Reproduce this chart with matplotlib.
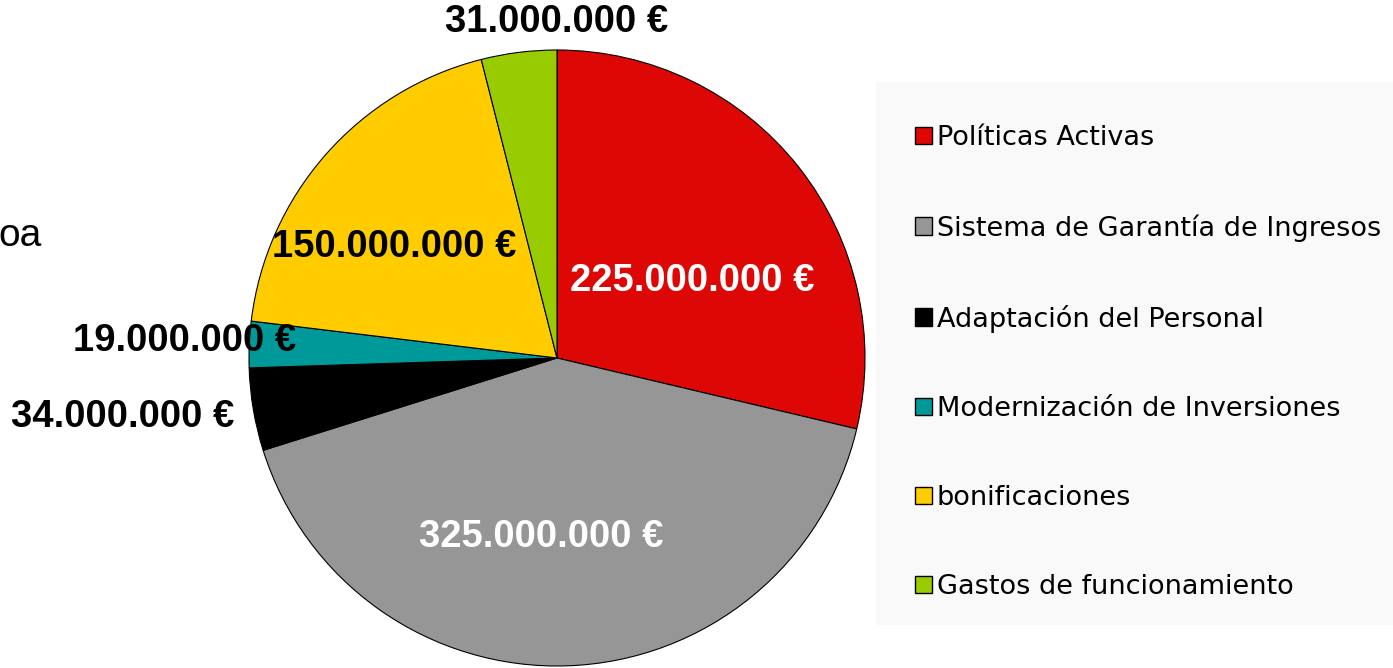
import matplotlib
matplotlib.use("Agg")
import matplotlib.pyplot as plt
import matplotlib.patches as mpatches

# data
categories = ["Políticas Activas", "Sistema de Garantía de Ingresos",
              "Adaptación del Personal", "Modernización de Inversiones",
              "bonificaciones", "Gastos de funcionamiento"]
values = [225000000, 325000000, 34000000, 19000000, 150000000, 31000000]
value_labels = ["225.000.000 €", "325.000.000 €", "34.000.000 €",
                "19.000.000 €", "150.000.000 €", "31.000.000 €"]

colors = ["#dd0806", "#969696", "#000000", "#009999", "#ffcc00", "#99cc00"]
label_colors = ["white", "white", "black", "black", "black", "black"]
# label positions (in units of pie radius), like excel placed them
label_pos = [(0.44, 0.25), (-0.05, -0.58), (-1.41, -0.19),
             (-1.21, 0.055), (-0.53, 0.36), (0.0, 1.09)]

W, H = 1393, 668
fig = plt.figure(figsize=(W/100, H/100), dpi=100)

# light background box behind the legend
fig.patches.append(mpatches.Rectangle((876/W, 1-625/H), (W-876)/W, (625-82)/H,
                                      transform=fig.transFigure,
                                      facecolor="#f9f9f9", edgecolor="none",
                                      zorder=0))

cx, cy, r = 557, 358, 308
ax = fig.add_axes([(cx-r)/W, (H-cy-r)/H, 2*r/W, 2*r/H])

wedges, _ = ax.pie(values, colors=colors, startangle=90, counterclock=False,
                   radius=1, frame=True,
                   wedgeprops=dict(edgecolor="black", linewidth=0.8))
ax.set_xlim(-1, 1)
ax.set_ylim(-1, 1)
ax.axis("off")

for txt, (x, y), c in zip(value_labels, label_pos, label_colors):
    ax.text(x, y, txt, ha="center", va="center", color=c, fontsize=27.5,
            fontweight="bold", family="Liberation Sans", clip_on=False)

fig.text(42/W, 1-236/H, "oa", ha="right", va="center", fontsize=28,
         family="Liberation Sans")

handles = [mpatches.Patch(facecolor=c, edgecolor="black", linewidth=1.0, label=l)
           for c, l in zip(colors, categories)]
leg = fig.legend(handles=handles, loc="upper left",
                 bbox_to_anchor=(915/W, 1-125/H), bbox_transform=fig.transFigure,
                 frameon=False, prop=dict(family="DejaVu Sans", size=19.5),
                 handlelength=0.62, handleheight=0.62, handletextpad=0.18,
                 labelspacing=2.33, borderpad=0, borderaxespad=0)

fig.savefig("out.png", dpi=100)
